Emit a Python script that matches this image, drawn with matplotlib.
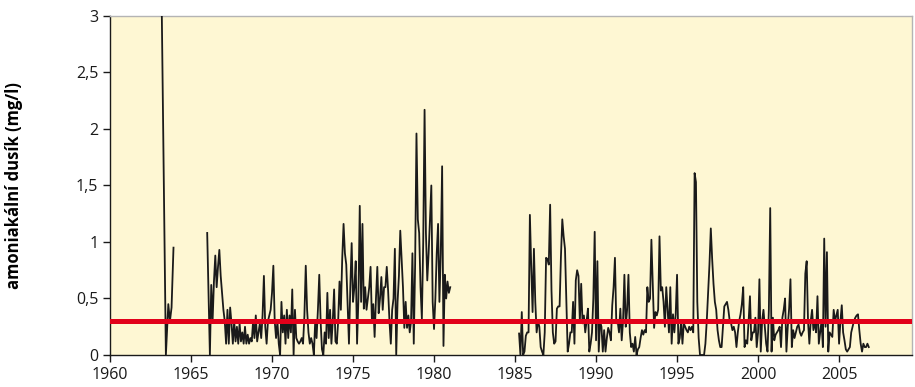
import matplotlib.pyplot as plt
import numpy as np

# limit value (red line)
limit = 0.3

# 1963 segment, explicit years
years1 = [1963.15, 1963.45, 1963.6, 1963.7, 1963.8, 1963.92]
vals1 = [3.6, 0.0, 0.45, 0.3, 0.42, 0.95]

# monthly data from Jan 1966
start2 = 1966.0
vals2 = [
    1.08, 0.55, 0.0, 0.62, 0.3, 0.65, 0.88, 0.6, 0.78, 0.93, 0.7, 0.55,
    0.4, 0.3, 0.1, 0.4, 0.1, 0.42, 0.28, 0.1, 0.3, 0.12, 0.25, 0.1,
    0.28, 0.12, 0.2, 0.1, 0.25, 0.1, 0.18, 0.1, 0.15, 0.12, 0.3, 0.15,
    0.35, 0.12, 0.2, 0.28, 0.15, 0.35, 0.7, 0.25, 0.1, 0.3, 0.35, 0.4,
    0.55, 0.79, 0.3, 0.15, 0.3, 0.1, 0.0, 0.47, 0.2, 0.35, 0.1, 0.4,
    0.15, 0.35, 0.2, 0.58, 0.0, 0.4, 0.15, 0.12, 0.1, 0.12, 0.15, 0.1,
    0.35, 0.79, 0.4, 0.2, 0.1, 0.15, 0.1, 0.0, 0.3, 0.15, 0.4, 0.71,
    0.3, 0.05, 0.0, 0.2, 0.1, 0.55, 0.15, 0.4, 0.1, 0.3, 0.58, 0.12,
    0.1, 0.3, 0.65, 0.4, 0.85, 1.16, 0.9, 0.8, 0.45, 0.1, 0.6, 0.99,
    0.47, 0.6, 0.83, 0.1, 0.5, 1.32, 0.47, 1.16, 0.41, 0.6, 0.4, 0.5,
    0.6, 0.78, 0.3, 0.45, 0.16, 0.5, 0.78, 0.37, 0.5, 0.69, 0.4, 0.6,
    0.6, 0.78, 0.57, 0.3, 0.1, 0.4, 0.5, 0.94, 0.0, 0.47, 0.7, 1.1,
    0.84, 0.6, 0.24, 0.47, 0.24, 0.35, 0.2, 0.3, 0.9, 0.1, 0.8, 1.96,
    1.2, 1.08, 0.6, 0.32, 1.0, 2.17, 1.08, 0.66, 0.9, 1.2, 1.5, 0.47,
    0.23, 0.5, 0.9, 1.16, 0.47, 0.9, 1.67, 0.08, 0.71, 0.5, 0.65, 0.55,
    0.6,
]

# monthly data from Apr 1985
start3 = 1985.25
vals3 = [
    0.19, 0.0, 0.38, 0.0, 0.03, 0.17, 0.2, 0.2, 1.24, 0.78, 0.38, 0.94,
    0.47, 0.2, 0.3, 0.25, 0.07, 0.03, 0.0, 0.2, 0.86, 0.85, 0.8, 1.33,
    0.57, 0.2, 0.1, 0.12, 0.41, 0.43, 0.43, 0.87, 1.2, 1.05, 0.94, 0.47,
    0.03, 0.1, 0.2, 0.2, 0.47, 0.1, 0.66, 0.75, 0.7, 0.3, 0.63, 0.28,
    0.35, 0.2, 0.3, 0.41, 0.03, 0.1, 0.2, 0.5, 1.09, 0.13, 0.83, 0.03,
    0.3, 0.25, 0.03, 0.22, 0.03, 0.15, 0.24, 0.2, 0.13, 0.44, 0.6, 0.86,
    0.28, 0.3, 0.2, 0.41, 0.13, 0.3, 0.71, 0.25, 0.4, 0.71, 0.2, 0.07,
    0.1, 0.03, 0.16, 0.0, 0.05, 0.07, 0.15, 0.22, 0.18, 0.22, 0.2, 0.6,
    0.47, 0.5, 1.02, 0.63, 0.24, 0.38, 0.35, 0.4, 1.05, 0.57, 0.6, 0.47,
    0.25, 0.6, 0.4, 0.2, 0.6, 0.1, 0.36, 0.2, 0.36, 0.71, 0.1, 0.15,
    0.3, 0.1, 0.28, 0.25, 0.22, 0.2, 0.25, 0.22, 0.25, 0.2, 1.61, 1.53,
    0.47, 0.15, 0.0, 0.0, 0.0, 0.0, 0.1, 0.3, 0.55, 0.8, 1.12, 0.85,
    0.63, 0.47, 0.4, 0.22, 0.13, 0.07, 0.07, 0.25, 0.43, 0.45, 0.47, 0.4,
    0.3, 0.28, 0.22, 0.25, 0.2, 0.07, 0.2, 0.3, 0.36, 0.45, 0.6, 0.07,
    0.13, 0.1, 0.3, 0.52, 0.13, 0.2, 0.2, 0.33, 0.07, 0.2, 0.67, 0.03,
    0.3, 0.4, 0.25, 0.1, 0.03, 0.4, 1.3, 0.03, 0.33, 0.13, 0.18, 0.2,
    0.22, 0.25, 0.07, 0.33, 0.4, 0.5, 0.03, 0.25, 0.41, 0.67, 0.07, 0.22,
    0.15, 0.2, 0.25, 0.27, 0.2, 0.17, 0.2, 0.22, 0.72, 0.83, 0.3, 0.1,
    0.3, 0.4, 0.22, 0.3, 0.2, 0.52, 0.1, 0.2, 0.3, 0.07, 1.03, 0.25,
    0.91, 0.03, 0.2, 0.18, 0.16, 0.4, 0.3, 0.35, 0.4, 0.1, 0.3, 0.44,
    0.2, 0.13, 0.05, 0.03, 0.05, 0.07, 0.2, 0.25, 0.3, 0.33, 0.35, 0.36,
    0.22, 0.1, 0.03, 0.1, 0.07, 0.07, 0.1, 0.07,
]

xticks = [1960, 1965, 1970, 1975, 1980, 1985, 1990, 1995, 2000, 2005]
yticks = [0, 0.5, 1, 1.5, 2, 2.5, 3]
ylabels = ["0", "0,5", "1", "1,5", "2", "2,5", "3"]

plt.rcParams['font.family'] = ['Open Sans', 'DejaVu Sans']

fig = plt.figure(figsize=(9.15, 3.87), dpi=100)
ax = fig.add_axes([0.1202, 0.0827, 0.8765, 0.876])
ax.set_facecolor('#fef7d3')

x2 = start2 + np.arange(len(vals2)) / 12
x3 = start3 + np.arange(len(vals3)) / 12
for xs, ys in [(years1, vals1), (x2, vals2), (x3, vals3)]:
    ax.plot(xs, ys, color='#1a1a1a', lw=1.3, zorder=3)

ax.axhline(limit, color='#e2001a', lw=3.6, zorder=4)

ax.set_xlim(1960, 2009.5)
ax.set_ylim(0, 3)
ax.set_xticks(xticks)
ax.set_yticks(yticks)
ax.set_yticklabels(ylabels)
ax.tick_params(direction='out', length=5, width=1, labelsize=11.5, colors='#1a1a1a')
ax.set_ylabel('amoniakální dusík (mg/l)', fontsize=12, fontweight='bold', labelpad=38)

for s in ['top', 'right']:
    ax.spines[s].set_color('#b4b4b4')
    ax.spines[s].set_linewidth(1)
for s in ['left', 'bottom']:
    ax.spines[s].set_color('#1a1a1a')
    ax.spines[s].set_linewidth(1)

fig.savefig('out.png', dpi=100)
